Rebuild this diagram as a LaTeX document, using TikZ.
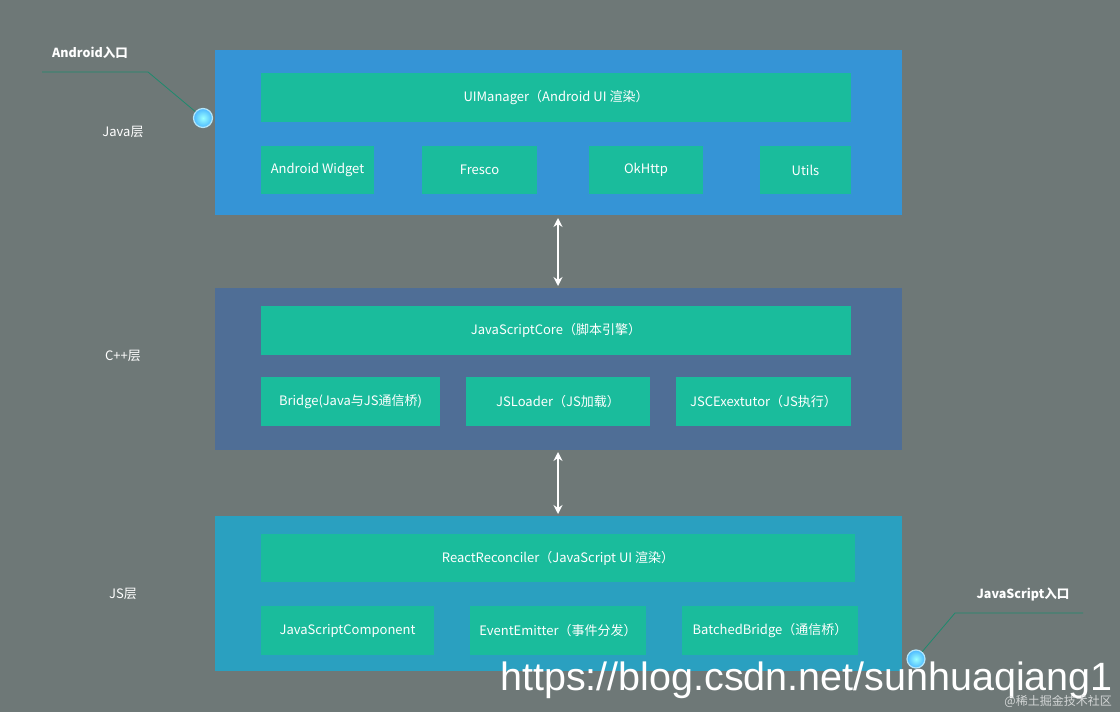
\documentclass[tikz,border=0pt]{standalone}
\usepackage{fontspec}
\setmainfont{Noto Sans CJK SC}
\newfontfamily\urlfont{Liberation Sans}
\usetikzlibrary{arrows.meta}
\definecolor{bg}{HTML}{6E7877}
\definecolor{javab}{HTML}{3594D6}
\definecolor{cppb}{HTML}{4F6E96}
\definecolor{jsb}{HTML}{2AA0C0}
\definecolor{grn}{HTML}{1ABC9C}
\definecolor{lnk}{HTML}{1E8A6E}
\begin{document}
\begin{tikzpicture}[x=1pt,y=-1pt,
  gbox/.style={fill=grn,text=white,font=\fontsize{13}{15}\selectfont},
  lbl/.style={text=white,font=\fontsize{13}{15}\selectfont},
  entry/.style={text=white,font=\bfseries\fontsize{12.5}{15}\selectfont},
  dot/.style={circle,minimum size=19pt,inner sep=0pt,draw=white!70!cyan,line width=1.2pt,inner color=cyan!40!white,outer color=cyan!60!blue!70!white},
  dbl/.style={{Stealth[length=9pt,width=9pt]}-{Stealth[length=9pt,width=9pt]},white,line width=2pt}]
\fill[bg] (0,0) rectangle (1120,712);
\useasboundingbox (0,0) rectangle (1120,712);
% layers
\fill[javab] (215,50) rectangle (902,215);
\fill[cppb] (215,288) rectangle (902,450);
\fill[jsb] (215,516) rectangle (902,671);
\coordinate (ja) at (558,218); \coordinate (cb) at (558,286);
\coordinate (cc) at (558,452); \coordinate (jd) at (558,514);
% java
\node[gbox,minimum width=590pt,minimum height=49pt] (uim) at (556,97.5) {UIManager（Android UI 渲染）};
\node[gbox,minimum width=113pt,minimum height=48pt] (aw) at (317.5,170) {Android Widget};
\node[gbox,minimum width=115pt,minimum height=48pt] (fr) at (479.5,170) {Fresco};
\node[gbox,minimum width=114pt,minimum height=48pt] (ok) at (646,170) {OkHttp};
\node[gbox,minimum width=91pt,minimum height=48pt] (ut) at (805.5,170) {Utils};
% cpp
\node[gbox,minimum width=590pt,minimum height=49pt] (jsc) at (556,330.5) {JavaScriptCore（脚本引擎）};
\node[gbox,minimum width=179pt,minimum height=49pt] (br) at (350.5,401.5) {Bridge(Java与JS通信桥)};
\node[gbox,minimum width=184pt,minimum height=49pt] (jl) at (558,401.5) {JSLoader（JS加载）};
\node[gbox,minimum width=175pt,minimum height=49pt] (je) at (763.5,401.5) {JSCExextutor（JS执行）};
% js
\node[gbox,minimum width=594pt,minimum height=48pt] (rr) at (558,558) {ReactReconciler（JavaScript UI 渲染）};
\node[gbox,minimum width=173pt,minimum height=49pt] (jc) at (347.5,630.5) {JavaScriptComponent};
\node[gbox,minimum width=176pt,minimum height=49pt] (ee) at (558,630.5) {EventEmitter（事件分发）};
\node[gbox,minimum width=176pt,minimum height=49pt] (bb) at (770,630.5) {BatchedBridge（通信桥）};
% arrows
\draw[dbl] (ja) -- (cb);
\draw[dbl] (cc) -- (jd);
% side labels
\node[lbl] (l1) at (123,132) {Java层};
\node[lbl] (l2) at (123,356) {C++层};
\node[lbl] (l3) at (123,594) {JS层};
% entries
\node[entry] (ae) at (90,53) {Android入口};
\node[dot] (d1) at (203,118) {};
\coordinate (a1) at (42,72); \coordinate (a2) at (148,72);
\draw[lnk,line width=0.8pt] (a1) -- (a2) -- (d1);
\node[entry] (jse) at (1023,594) {JavaScript入口};
\node[dot,minimum size=18pt] (d2) at (916,659) {};
\coordinate (b1) at (1083,613); \coordinate (b2) at (955,613);
\draw[lnk,line width=0.8pt] (b1) -- (b2) -- (d2);
% watermarks
\node[text=white,font=\urlfont\fontsize{39.5}{42}\selectfont,anchor=west,inner sep=0pt] (url) at (500,680) {https://blog.csdn.net/sunhuaqiang1};
\node[text=white!70!bg,font=\fontsize{12}{13}\selectfont,anchor=east,inner sep=0pt] (wm) at (1112,701) {@稀土掘金技术社区};
\end{tikzpicture}
\end{document}
